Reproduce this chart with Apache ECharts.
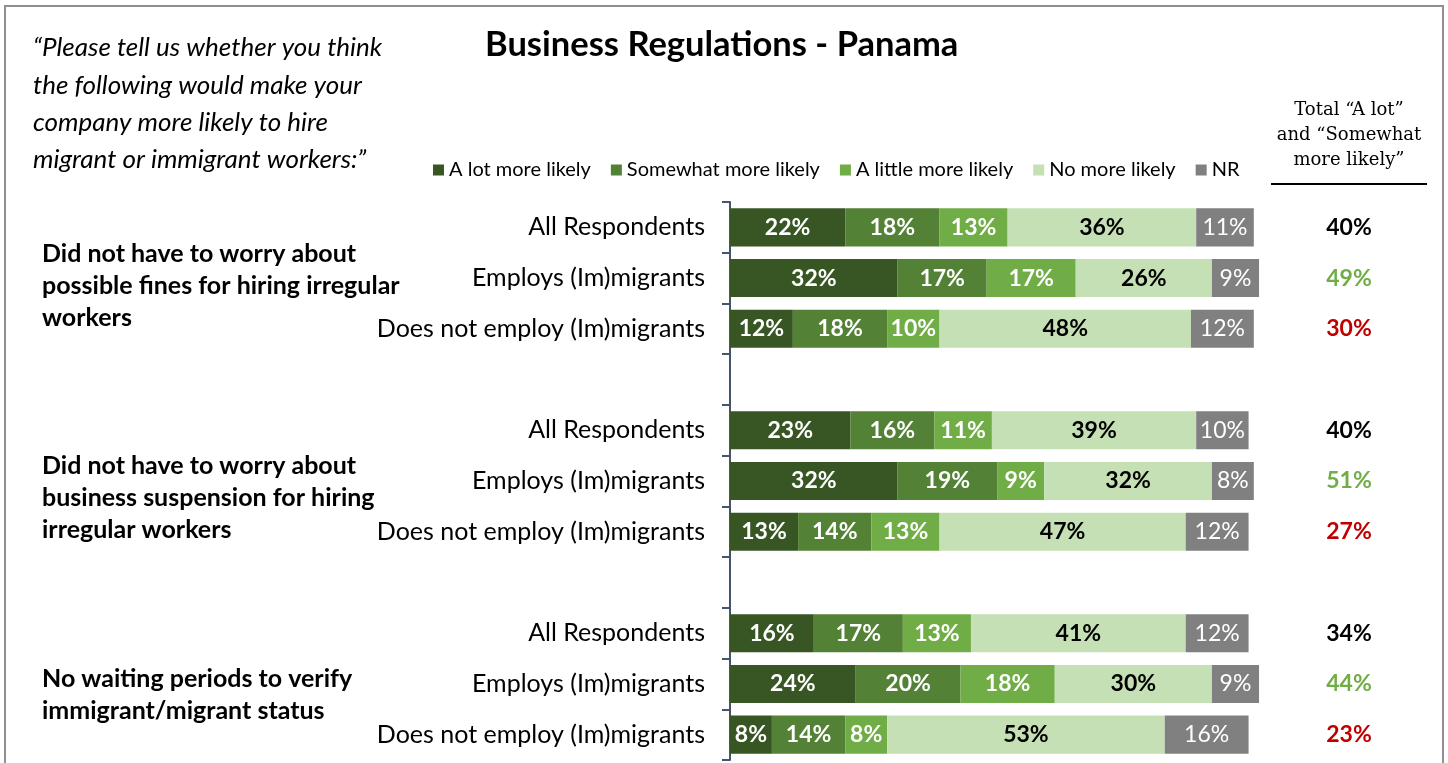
<!DOCTYPE html>
<html>
<head>
<meta charset="utf-8">
<script src="https://cdn.jsdelivr.net/npm/echarts@6/dist/echarts.min.js"></script>
<style>
  html, body { margin: 0; padding: 0; background: #fff; }
  #chart { width: 1448px; height: 763px; }
</style>
</head>
<body>
<div id="chart"></div>
<script>
// Survey responses, one entry per row (3 groups x 3 respondent types)
const rowLabels = ['All Respondents', 'Employs (Im)migrants', 'Does not employ (Im)migrants'];
const groupTitles = [
  ['Did not have to worry about', 'possible fines for hiring irregular', 'workers'],
  ['Did not have to worry about', 'business suspension for hiring', 'irregular workers'],
  ['No waiting periods to verify', 'immigrant/migrant status']
];
const seriesNames = ['A lot more likely', 'Somewhat more likely', 'A little more likely', 'No more likely', 'NR'];
const aLot     = [22, 32, 12, 23, 32, 13, 16, 24, 8];
const somewhat = [18, 17, 18, 16, 19, 14, 17, 20, 14];
const aLittle  = [13, 17, 10, 11, 9, 13, 13, 18, 8];
const noMore   = [36, 26, 48, 39, 32, 47, 41, 30, 53];
const nr       = [11, 9, 12, 10, 8, 12, 12, 9, 16];
const totals   = [40, 49, 30, 40, 51, 27, 34, 44, 23];
const totalHeader = ['Total \u201CA lot\u201D', 'and \u201CSomewhat', 'more likely\u201D'];
const quoteLines = [
  '\u201CPlease tell us whether you think',
  'the following would make your',
  'company more likely to hire',
  'migrant or immigrant workers:\u201D'
];

const colors = ['#375623', '#538135', '#70AD47', '#C5E0B4', '#808080'];
const totalColors = ['#000000', '#70AD47', '#C00000'];
const FONT = 'Lato, "Liberation Sans", sans-serif';

// Build the category list with an empty spacer row between groups
const categories = [];
const rowIndex = [];      // category index of each data row
const groupCount = groupTitles.length;
for (let g = 0; g < groupCount; g++) {
  for (let r = 0; r < rowLabels.length; r++) {
    rowIndex.push(categories.length);
    categories.push(rowLabels[r]);
  }
  if (g < groupCount - 1) categories.push('');
}
function spread(values) {
  const out = categories.map(() => '-');
  values.forEach((v, i) => { out[rowIndex[i]] = v; });
  return out;
}

const valueSets = [aLot, somewhat, aLittle, noMore, nr];
const barSeries = valueSets.map((vals, k) => ({
  name: seriesNames[k],
  type: 'bar',
  stack: 'total',
  barCategoryGap: '25%',
  xAxisIndex: 0,
  yAxisIndex: 0,
  itemStyle: { color: colors[k] },
  label: {
    show: true,
    position: 'inside',
    formatter: '{c}%',
    fontFamily: FONT,
    fontSize: 23,
    fontWeight: k === 4 ? 'normal' : 'bold',
    color: k === 3 ? '#000' : '#fff'
  },
  data: spread(vals)
}));

// "Total A lot + Somewhat" column, one label per row, coloured by respondent type
const totalSeries = {
  type: 'scatter',
  xAxisIndex: 1,
  yAxisIndex: 1,
  symbolSize: 1,
  itemStyle: { color: 'transparent', opacity: 1 },
  silent: true,
  label: {
    show: true,
    position: 'inside',
    textBorderWidth: 0,
    formatter: p => '{c' + (p.dataIndex % 3) + '|' + totals[p.dataIndex] + '%}',
    rich: {
      c0: { color: totalColors[0], fontFamily: FONT, fontSize: 23, fontWeight: 'bold' },
      c1: { color: totalColors[1], fontFamily: FONT, fontSize: 23, fontWeight: 'bold' },
      c2: { color: totalColors[2], fontFamily: FONT, fontSize: 23, fontWeight: 'bold' }
    }
  },
  data: totals.map((t, i) => [0, rowIndex[i]])
};

// Free text: question, group titles, totals header, frame
const graphics = [];
graphics.push({
  type: 'rect', silent: true,
  shape: { x: 5, y: 6, width: 1438, height: 800 },
  style: { fill: 'none', stroke: '#8f8f8f', lineWidth: 2 }
});
graphics.push({
  type: 'text', x: 485, y: 45,
  style: { text: 'Business Regulations - Panama', font: 'bold 34.5px ' + FONT, fill: '#000',
           textVerticalAlign: 'middle' }
});
quoteLines.forEach((t, i) => {
  graphics.push({
    type: 'text', x: 33, y: 48 + i * 37.3,
    style: { text: t, font: 'italic 26px ' + FONT, fill: '#000', textVerticalAlign: 'middle' }
  });
});
const groupCenters = [254, 466, 679];
groupTitles.forEach((lines, g) => {
  lines.forEach((t, i) => {
    graphics.push({
      type: 'text', x: 42, y: groupCenters[g] + i * 32,
      style: { text: t, font: 'bold 25px ' + FONT, fill: '#000', textVerticalAlign: 'middle' }
    });
  });
});
totalHeader.forEach((t, i) => {
  graphics.push({
    type: 'text', x: 1349, y: 110 + i * 25,
    style: { text: t, font: '18px "DejaVu Serif", "Liberation Serif", serif', fill: '#000',
             textAlign: 'center', textVerticalAlign: 'middle' }
  });
});
graphics.push({
  type: 'line', silent: true,
  shape: { x1: 1271, y1: 184, x2: 1427, y2: 184 },
  style: { stroke: '#000', lineWidth: 2 }
});

const chart = echarts.init(document.getElementById('chart'));
chart.setOption({
  animation: false,
  backgroundColor: '#fff',
  legend: {
    data: seriesNames,
    left: 428,
    top: 155,
    icon: 'rect',
    itemWidth: 11,
    itemHeight: 11,
    itemGap: 20,
    selectedMode: false,
    textStyle: { fontFamily: FONT, fontSize: 20, color: '#000', padding: [0, 0, 0, 0] }
  },
  grid: [
    { left: 730, top: 202, width: 550, height: 558 },
    { left: 1271, top: 202, width: 156, height: 558 }
  ],
  xAxis: [
    { type: 'value', gridIndex: 0, min: 0, max: 105, show: false },
    { type: 'value', gridIndex: 1, min: -1, max: 1, show: false }
  ],
  yAxis: [
    {
      type: 'category', gridIndex: 0, inverse: true, data: categories,
      axisLine: { lineStyle: { color: '#44546A', width: 2 } },
      axisTick: { show: true, length: 8, alignWithLabel: false, interval: 0,
                  lineStyle: { color: '#44546A', width: 2 } },
      axisLabel: { interval: 0, margin: 25, fontFamily: FONT, fontSize: 25, color: '#000' }
    },
    { type: 'category', gridIndex: 1, inverse: true, data: categories, show: false }
  ],
  series: barSeries.concat([totalSeries]),
  graphic: graphics
});
</script>
</body>
</html>
